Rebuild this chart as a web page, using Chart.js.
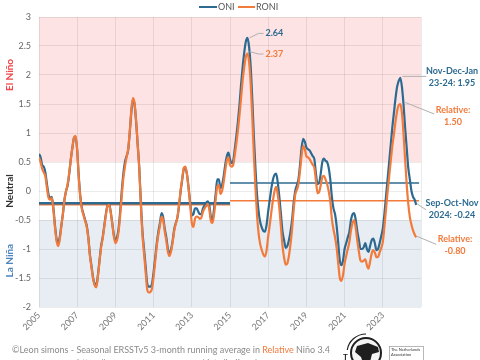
<!DOCTYPE html>
<html><head><meta charset="utf-8">
<script src="https://cdn.jsdelivr.net/npm/chart.js@4/dist/chart.umd.min.js"></script>
<style>html,body{margin:0;padding:0;background:#fff;}#wrap{width:480px;height:360px;}</style>
</head><body><div id="wrap"><canvas id="c" width="480" height="360"></canvas></div>
<script>
// ---- DATA ----
const startYear = 2005; // first season: DJF 2005, one value per 3-month season (monthly step)
const oni = [
 0.64, 0.58, 0.45, 0.42, 0.32, 0.12, -0.06, -0.12, -0.10, -0.28, -0.58, -0.82,
 -0.90, -0.80, -0.60, -0.40, -0.15, 0.00, 0.10, 0.30, 0.55, 0.75, 0.92, 0.94,
 0.70, 0.25, -0.10, -0.30, -0.40, -0.50, -0.60, -0.80, -1.10, -1.30, -1.50, -1.60,
 -1.63, -1.45, -1.20, -0.95, -0.80, -0.60, -0.40, -0.25, -0.22, -0.35, -0.55, -0.75,
 -0.85, -0.80, -0.65, -0.35, 0.00, 0.30, 0.50, 0.60, 0.70, 1.00, 1.35, 1.57,
 1.50, 1.20, 0.80, 0.40, -0.20, -0.70, -1.00, -1.30, -1.60, -1.65, -1.65, -1.60,
 -1.40, -1.15, -0.90, -0.70, -0.55, -0.38, -0.45, -0.65, -0.80, -1.00, -1.08, -1.00,
 -0.85, -0.65, -0.55, -0.45, -0.25, 0.00, 0.20, 0.38, 0.40, 0.28, 0.05, -0.20,
 -0.42, -0.40, -0.30, -0.30, -0.35, -0.40, -0.40, -0.30, -0.25, -0.20, -0.18, -0.25,
 -0.45, -0.50, -0.30, -0.05, 0.20, 0.20, 0.05, 0.10, 0.25, 0.45, 0.60, 0.66,
 0.55, 0.48, 0.52, 0.72, 0.95, 1.20, 1.50, 1.85, 2.15, 2.40, 2.58, 2.64,
 2.48, 2.14, 1.58, 0.94, 0.39, -0.07, -0.36, -0.54, -0.63, -0.69, -0.70, -0.58,
 -0.35, -0.15, 0.05, 0.20, 0.28, 0.30, 0.15, -0.10, -0.40, -0.70, -0.85, -0.98,
 -0.95, -0.85, -0.70, -0.50, -0.20, 0.00, 0.10, 0.20, 0.45, 0.75, 0.90, 0.85,
 0.75, 0.72, 0.70, 0.65, 0.60, 0.55, 0.30, 0.12, 0.14, 0.30, 0.50, 0.56,
 0.52, 0.50, 0.40, 0.20, -0.10, -0.30, -0.40, -0.60, -0.90, -1.20, -1.28, -1.20,
 -1.00, -0.90, -0.80, -0.70, -0.50, -0.40, -0.38, -0.50, -0.70, -0.85, -1.00, -1.00,
 -0.97, -0.90, -1.00, -1.05, -0.95, -0.85, -0.82, -0.90, -1.02, -1.00, -0.90, -0.78,
 -0.65, -0.40, -0.10, 0.20, 0.50, 0.80, 1.10, 1.35, 1.60, 1.80, 1.90, 1.95,
 1.80, 1.50, 1.10, 0.75, 0.40, 0.20, 0.00, -0.10, -0.15, -0.24
];
const roni = [
 0.58, 0.50, 0.38, 0.32, 0.25, 0.05, -0.12, -0.15, -0.12, -0.32, -0.62, -0.86,
 -0.95, -0.85, -0.62, -0.40, -0.15, 0.00, 0.12, 0.32, 0.55, 0.75, 0.92, 0.95,
 0.70, 0.22, -0.12, -0.32, -0.42, -0.52, -0.62, -0.82, -1.12, -1.32, -1.52, -1.63,
 -1.66, -1.48, -1.22, -0.98, -0.82, -0.62, -0.42, -0.26, -0.24, -0.36, -0.56, -0.78,
 -0.90, -0.85, -0.70, -0.42, -0.08, 0.22, 0.42, 0.58, 0.72, 1.02, 1.40, 1.60,
 1.52, 1.22, 0.80, 0.38, -0.24, -0.76, -1.08, -1.40, -1.70, -1.75, -1.74, -1.68,
 -1.48, -1.22, -0.95, -0.75, -0.60, -0.44, -0.50, -0.70, -0.86, -1.05, -1.12, -1.04,
 -0.88, -0.68, -0.56, -0.45, -0.24, 0.02, 0.22, 0.40, 0.42, 0.28, 0.04, -0.24,
 -0.55, -0.62, -0.48, -0.44, -0.45, -0.48, -0.46, -0.36, -0.30, -0.26, -0.22, -0.32,
 -0.52, -0.55, -0.40, -0.15, 0.08, 0.10, -0.05, 0.00, 0.15, 0.35, 0.52, 0.58,
 0.45, 0.42, 0.45, 0.62, 0.82, 1.05, 1.32, 1.62, 1.92, 2.15, 2.32, 2.37,
 2.22, 1.85, 1.28, 0.62, 0.05, -0.42, -0.74, -0.92, -1.02, -1.10, -1.13, -1.02,
 -0.78, -0.58, -0.36, -0.16, 0.00, 0.07, -0.06, -0.30, -0.62, -0.95, -1.15, -1.27,
 -1.25, -1.12, -0.92, -0.66, -0.32, -0.06, 0.02, 0.12, 0.35, 0.62, 0.78, 0.72,
 0.60, 0.58, 0.55, 0.50, 0.45, 0.40, 0.18, -0.04, -0.02, 0.10, 0.24, 0.26,
 0.20, 0.12, 0.00, -0.18, -0.48, -0.66, -0.80, -0.98, -1.25, -1.50, -1.55, -1.45,
 -1.25, -1.12, -1.00, -0.88, -0.68, -0.55, -0.50, -0.64, -0.86, -1.05, -1.20, -1.22,
 -1.20, -1.18, -1.28, -1.34, -1.22, -1.08, -1.02, -1.06, -1.14, -1.14, -1.06, -0.98,
 -0.88, -0.62, -0.32, -0.02, 0.25, 0.52, 0.78, 0.98, 1.20, 1.38, 1.48, 1.50,
 1.35, 1.00, 0.55, 0.12, -0.22, -0.45, -0.58, -0.68, -0.75, -0.80
];
const meanBreaks = [2005, 2015, 2024.9];
const oniMeans = [-0.21, 0.14];
const roniMeans = [-0.23, -0.17];
const xTickYears = [2005, 2007, 2009, 2011, 2013, 2015, 2017, 2019, 2021, 2023];
const xRange = [2005, 2025];
const yRange = [-2, 3];
const zoneBounds = [0.5, -0.5];
const peaks = {oni2015: 131, oni2023: 227, last: 237};

// ---- STYLE ----
const ONI_C = '#2c6a91';
const RONI_C = '#f27a3a';
const FONT = 'Lato, "Open Sans", sans-serif';

const toXY = arr => arr.map((v, i) => ({x: startYear + i / 12, y: v}));
const seg = (vals, k) => [{x: meanBreaks[k], y: vals[k]}, {x: meanBreaks[k + 1], y: vals[k]}];

const deco = {
  id: 'deco',
  beforeDraw(chart) {
    const {ctx, chartArea: a, scales: {y}} = chart;
    ctx.save();
    ctx.fillStyle = '#fff';
    ctx.fillRect(0, 0, chart.width, chart.height);
    ctx.fillStyle = '#fde3e3';
    ctx.fillRect(a.left, y.getPixelForValue(yRange[1]), a.right - a.left, y.getPixelForValue(zoneBounds[0]) - y.getPixelForValue(yRange[1]));
    ctx.fillStyle = '#e8edf3';
    ctx.fillRect(a.left, y.getPixelForValue(zoneBounds[1]), a.right - a.left, y.getPixelForValue(yRange[0]) - y.getPixelForValue(zoneBounds[1]));
    ctx.restore();
  },
  afterDraw(chart) {
    const {ctx, scales: {x, y}} = chart;
    ctx.save();
    // side labels
    const side = (txt, val, col) => {
      ctx.save();
      ctx.translate(10, y.getPixelForValue(val));
      ctx.rotate(-Math.PI / 2);
      ctx.font = 'bold 10px ' + FONT;
      ctx.fillStyle = col; ctx.textAlign = 'center'; ctx.textBaseline = 'middle';
      ctx.fillText(txt, 0, 0);
      ctx.restore();
    };
    side('El Niño', 2.0, '#f0484b');
    side('Neutral', 0, '#333333');
    side('La Niña', -1.2, '#4f86c0');
    // legend
    ctx.lineWidth = 2;
    ctx.font = '9px ' + FONT; ctx.textBaseline = 'middle'; ctx.textAlign = 'left';
    ctx.strokeStyle = ONI_C; ctx.beginPath(); ctx.moveTo(199, 7); ctx.lineTo(217, 7); ctx.stroke();
    ctx.fillStyle = '#555'; ctx.fillText('ONI', 218, 7);
    ctx.strokeStyle = RONI_C; ctx.beginPath(); ctx.moveTo(238, 7); ctx.lineTo(255, 7); ctx.stroke();
    ctx.fillText('RONI', 256, 7);
    // annotations
    const px = i => x.getPixelForValue(startYear + i / 12);
    const lead = (pts) => {
      ctx.strokeStyle = '#b0b0b0'; ctx.lineWidth = 1;
      ctx.beginPath(); ctx.moveTo(pts[0][0], pts[0][1]);
      for (let k = 1; k < pts.length; k++) ctx.lineTo(pts[k][0], pts[k][1]);
      ctx.stroke();
    };
    const txt = (s, xx, yy, col, al) => {
      ctx.font = 'bold 9px ' + FONT; ctx.fillStyle = col; ctx.textAlign = al || 'left'; ctx.textBaseline = 'middle';
      ctx.fillText(s, xx, yy);
    };
    let p = peaks.oni2015, X = px(p), Y = y.getPixelForValue(oni[p]);
    lead([[X + 2, Y], [X + 11, Y - 4.5], [X + 16, Y - 4.5]]);
    txt(oni[p].toFixed(2), X + 18, Y - 4.5, ONI_C);
    Y = y.getPixelForValue(roni[p]);
    lead([[X + 2, Y - 2], [X + 11, Y + 0.5], [X + 16, Y + 0.5]]);
    txt(roni[p].toFixed(2), X + 18, Y + 0.5, RONI_C);

    p = peaks.oni2023; X = px(p); Y = y.getPixelForValue(oni[p]);
    lead([[X + 2, Y - 1.5], [X + 26, Y - 1.5]]);
    txt('Nov-Dec-Jan', 452, Y - 7, ONI_C, 'center');
    txt('23-24: ' + oni[p].toFixed(2), 452, Y + 5, ONI_C, 'center');
    Y = y.getPixelForValue(roni[p]);
    lead([[X + 5, Y - 1.5], [X + 34, Y + 10]]);
    txt('Relative:', 453, Y + 6, RONI_C, 'center');
    txt(roni[p].toFixed(2), 453, Y + 18, RONI_C, 'center');

    p = peaks.last; X = px(p); Y = y.getPixelForValue(oni[p]);
    lead([[X + 1, Y - 1], [X + 10, Y + 5]]);
    txt('Sep-Oct-Nov', 452, Y - 2, ONI_C, 'center');
    txt('2024: ' + oni[p].toFixed(2), 452, Y + 10, ONI_C, 'center');
    Y = y.getPixelForValue(roni[p]);
    lead([[X + 1, Y - 1], [X + 20, Y + 7]]);
    txt('Relative:', 455, Y + 2, RONI_C, 'center');
    txt(roni[p].toFixed(2), 455, Y + 14, RONI_C, 'center');

    // footer
    ctx.font = '9px ' + FONT; ctx.textAlign = 'left'; ctx.textBaseline = 'middle';
    let fx = 12;
    const parts = [['©Leon simons - Seasonal ERSSTv5 3-month running average in ', '#8a8a8a'], ['Relative', RONI_C], [' Niño 3.4', '#8a8a8a']];
    parts.forEach(([s, c]) => { ctx.fillStyle = c; ctx.fillText(s, fx, 350); fx += ctx.measureText(s).width; });
    ctx.fillStyle = '#8a8a8a';
    ctx.fillText('https://www.cpc.ncep.noaa.gov/data/indices/', 77, 363);
    // logo
    ctx.fillStyle = '#f4f4f4';
    ctx.beginPath(); ctx.arc(366, 353, 16, 0, Math.PI * 2); ctx.fill();
    ctx.strokeStyle = '#1e1e1e'; ctx.lineWidth = 2;
    ctx.beginPath(); ctx.arc(366, 353, 15, 0, Math.PI * 2); ctx.stroke();
    ctx.fillStyle = '#1e1e1e';
    ctx.beginPath();
    ctx.moveTo(357, 346); ctx.lineTo(368, 343); ctx.lineTo(378, 347); ctx.lineTo(379, 352);
    ctx.lineTo(372, 354); ctx.lineTo(370, 362); ctx.lineTo(364, 366); ctx.lineTo(361, 357); ctx.lineTo(355, 352);
    ctx.closePath(); ctx.fill();
    ctx.lineWidth = 1.2;
    ctx.beginPath(); ctx.arc(366, 353, 19, Math.PI * 1.05, Math.PI * 1.5); ctx.stroke();
    ctx.font = 'bold 8px ' + FONT;
    ctx.fillText('T', 343, 357);
    ctx.strokeStyle = '#999'; ctx.lineWidth = 0.7;
    ctx.strokeRect(389.5, 346.5, 34, 16);
    ctx.font = '4px ' + FONT; ctx.fillStyle = '#333';
    ctx.fillText('The Netherlands', 391, 350);
    ctx.fillText('Association', 391, 355);
    ctx.restore();
  }
};

new Chart(document.getElementById('c'), {
  type: 'line',
  data: {
    datasets: [
      {label: 'RONI', data: toXY(roni), borderColor: RONI_C, borderWidth: 2.2, order: 0},
      {label: 'ONI', data: toXY(oni), borderColor: ONI_C, borderWidth: 2.2, order: 1},
      {label: 'ONI mean 1', data: seg(oniMeans, 0), borderColor: ONI_C, borderWidth: 2.5, order: 2},
      {label: 'RONI mean 1', data: seg(roniMeans, 0), borderColor: RONI_C, borderWidth: 2.5, order: 3},
      {label: 'ONI mean 2', data: seg(oniMeans, 1), borderColor: ONI_C, borderWidth: 1.5, order: 2},
      {label: 'RONI mean 2', data: seg(roniMeans, 1), borderColor: RONI_C, borderWidth: 1.5, order: 3}
    ]
  },
  options: {
    responsive: false, animation: false, devicePixelRatio: 1,
    elements: {point: {radius: 0}, line: {cubicInterpolationMode: 'monotone', fill: false}},
    layout: {padding: {top: 17, right: 59, left: 0, bottom: 0}},
    plugins: {legend: {display: false}, tooltip: {enabled: false}},
    scales: {
      x: {
        type: 'linear', min: xRange[0], max: xRange[1],
        afterBuildTicks: s => { s.ticks = xTickYears.concat([xRange[1]]).map(v => ({value: v})); },
        ticks: {autoSkip: false, minRotation: 45, maxRotation: 45, padding: 3, color: '#777', font: {family: FONT, size: 9},
          callback: v => xTickYears.includes(v) ? String(v) : ''},
        grid: {color: 'rgba(0,0,0,0.08)', drawTicks: false},
        border: {display: false},
        afterFit: s => { s.height = 53; }
      },
      y: {
        min: yRange[0], max: yRange[1],
        ticks: {stepSize: 0.5, padding: 8, color: '#666', font: {family: FONT, size: 9}, callback: v => String(v)},
        grid: {color: 'rgba(0,0,0,0.08)', drawTicks: false},
        border: {display: false},
        afterFit: s => { s.width = 39; }
      }
    }
  },
  plugins: [deco]
});
</script></body></html>
